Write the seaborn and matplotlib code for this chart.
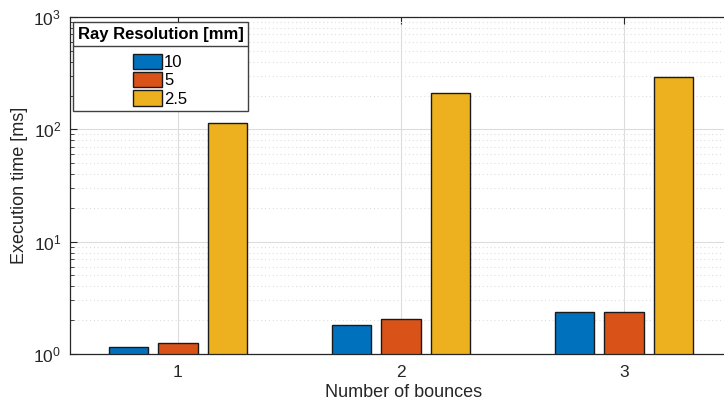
import matplotlib
matplotlib.use("Agg")
import matplotlib.pyplot as plt
import seaborn as sns
import pandas as pd
from matplotlib.lines import Line2D
from matplotlib.ticker import LogLocator, NullFormatter

bounces = ["1", "2", "3"]
resolutions = ["10", "5", "2.5"]
time_10 = [1.15, 1.82, 2.37]
time_5 = [1.25, 2.04, 2.36]
time_2_5 = [115, 212, 291]
colors = ["#0072BD", "#D95319", "#EDB120"]

rows = []
for res, vals in zip(resolutions, [time_10, time_5, time_2_5]):
    for b, v in zip(bounces, vals):
        rows.append({"Number of bounces": b, "Ray Resolution [mm]": res, "time": v})
df = pd.DataFrame(rows)

sns.set_theme(style="ticks")
plt.rcParams["font.family"] = ["Liberation Sans", "DejaVu Sans"]
plt.rcParams["mathtext.default"] = "regular"

fig = plt.figure(figsize=(7.24, 4.09), dpi=100)
W, H = 724, 409
ax = fig.add_axes([69.5 / W, (H - 354) / H, 669 / W, (354 - 17) / H])

sns.barplot(data=df, x="Number of bounces", y="time", hue="Ray Resolution [mm]",
            order=bounces, hue_order=resolutions, palette=colors,
            width=0.666, gap=0.2, edgecolor="#1a1a1a", linewidth=1.0,
            saturation=1.0, errorbar=None, ax=ax, zorder=3)

ax.set_yscale("log")
ax.set_ylim(1, 1000)
ax.set_xlim(-0.4865, 2.5135)
ax.yaxis.set_major_locator(LogLocator(base=10, numticks=10))
ax.yaxis.set_minor_locator(LogLocator(base=10, subs=range(2, 10), numticks=10))
ax.yaxis.set_minor_formatter(NullFormatter())

axcol = "#262626"
for s in ["left", "bottom", "top", "right"]:
    ax.spines[s].set_visible(True)
    ax.spines[s].set_color(axcol)
    ax.spines[s].set_linewidth(0.9)
    ax.spines[s].set_zorder(5)

ax.tick_params(axis="both", which="both", direction="in", top=True, right=True,
               color=axcol, labelcolor=axcol, labelsize=12.5)
ax.tick_params(axis="x", which="major", length=5, width=0.8, pad=8)
ax.tick_params(axis="y", which="major", length=5, width=0.8, pad=6)
ax.tick_params(axis="y", which="minor", length=3, width=0.6)
ax.tick_params(axis="x", which="minor", bottom=False, top=False)

ax.grid(True, which="major", color="#dcdcdc", linewidth=0.8, linestyle="-", zorder=0)
ax.grid(True, which="minor", axis="y", color="#dedede", linewidth=0.8, linestyle=(0, (1, 2.5)), zorder=0)
ax.set_axisbelow(True)

ax.set_xlabel("Number of bounces", fontsize=13, color=axcol, labelpad=3)
ax.set_ylabel("Execution time [ms]", fontsize=13, color=axcol, labelpad=4)

leg = ax.legend(title="Ray Resolution [mm]", loc="upper left",
                bbox_to_anchor=(0.005, 0.985), fontsize=12,
                title_fontproperties={"weight": "bold", "size": 12},
                frameon=True, fancybox=False, edgecolor="#404040", framealpha=1,
                borderpad=0.28, handlelength=1.7, handleheight=1.05,
                handletextpad=0.15, labelspacing=0.12, borderaxespad=0.0)
leg._legend_box.sep = 8.5
leg.get_frame().set_linewidth(1.0)
leg.set_zorder(10)
leg.get_title().set_color("#000000")
for t in leg.get_texts():
    t.set_color("#000000")

fig.canvas.draw()
r = fig.canvas.get_renderer()
fb = leg.get_frame().get_window_extent(r)
tb = leg.get_title().get_window_extent(r)
y = tb.y0 - 4
inv = fig.transFigure.inverted()
(x0f, yf), (x1f, _) = inv.transform([(fb.x0, y), (fb.x1, y)])
fig.add_artist(Line2D([x0f, x1f], [yf, yf], color="#404040", linewidth=1.0, zorder=20))

fig.savefig("out.png", dpi=100)
